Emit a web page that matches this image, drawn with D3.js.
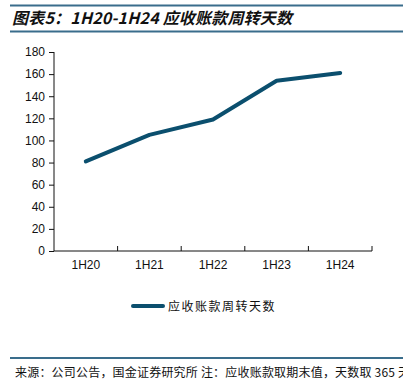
<!DOCTYPE html>
<html>
<head>
<meta charset="utf-8">
<script src="https://cdn.jsdelivr.net/npm/d3@7"></script>
<style>
  body { margin: 0; background: #fff; overflow: hidden; }
  svg { display: block; }
</style>
</head>
<body>
<div id="chart"></div>
<script>
// data
var categories = ["1H20", "1H21", "1H22", "1H23", "1H24"];
var turnoverDays = [81, 105, 119, 154, 161];
var yTicks = [0, 20, 40, 60, 80, 100, 120, 140, 160, 180];
var seriesName = "应收账款周转天数";
var titleText = "图表5：1H20-1H24 应收账款周转天数";
var sourceText = "来源：公司公告，国金证券研究所 注：应收账款取期末值，天数取 365 天";

function init() {
    var w = 403, h = 380;
    var left = 54, right = 372, top = 52, bottom = 251;
    var lineColor = "#0b4f6e";
    var ruleColor = "#3a6d8c";
    var cjk = "'Noto Sans CJK SC', sans-serif";

    var svg = d3.select("#chart").append("svg")
        .attr("width", w)
        .attr("height", h);

    // title with rules
    svg.append("line").attr("x1", 10).attr("x2", w).attr("y1", 5.5).attr("y2", 5.5)
        .attr("stroke", ruleColor).attr("stroke-width", 2);
    svg.append("line").attr("x1", 10).attr("x2", w).attr("y1", 31.5).attr("y2", 31.5)
        .attr("stroke", ruleColor).attr("stroke-width", 2);
    svg.append("text")
        .attr("x", 12).attr("y", 24)
        .attr("font-family", cjk)
        .attr("font-size", 16)
        .attr("letter-spacing", 0.2)
        .attr("font-weight", "bold")
        .attr("font-style", "italic")
        .attr("fill", "#111")
        .text(titleText);

    var xScale = d3.scaleBand()
        .domain(categories)
        .range([left, right]);

    var yScale = d3.scaleLinear()
        .domain([0, 180])
        .range([bottom, top]);

    // y axis
    var yAxis = svg.append("g")
        .attr("transform", "translate(" + left + ",0)")
        .call(d3.axisLeft(yScale).tickValues(yTicks).tickSize(5).tickPadding(4));
    yAxis.selectAll("text")
        .attr("font-family", "'Liberation Sans', Arial, sans-serif")
        .attr("font-size", 12)
        .attr("fill", "#111");
    yAxis.selectAll("line, path").attr("stroke", "#111");
    yAxis.select(".domain").attr("d", "M0," + bottom + "V" + top);

    // x axis: ticks point up at band boundaries
    var xAxis = svg.append("g")
        .attr("transform", "translate(0," + bottom + ")");
    xAxis.append("line")
        .attr("x1", left).attr("x2", right)
        .attr("stroke", "#111");
    xAxis.selectAll(".bt")
        .data(categories)
        .enter()
        .append("line")
        .attr("class", "bt")
        .attr("x1", function(d) { return xScale(d) + xScale.bandwidth(); })
        .attr("x2", function(d) { return xScale(d) + xScale.bandwidth(); })
        .attr("y1", 0).attr("y2", -5)
        .attr("stroke", "#111");
    xAxis.selectAll(".lbl")
        .data(categories)
        .enter()
        .append("text")
        .attr("class", "lbl")
        .attr("x", function(d) { return xScale(d) + xScale.bandwidth() / 2; })
        .attr("y", 18)
        .attr("text-anchor", "middle")
        .attr("font-family", "'Liberation Sans', Arial, sans-serif")
        .attr("font-size", 12)
        .attr("fill", "#111")
        .text(function(d) { return d; });

    // line
    var line = d3.line()
        .x(function(d, i) { return xScale(categories[i]) + xScale.bandwidth() / 2; })
        .y(function(d) { return yScale(d); });
    svg.append("path")
        .datum(turnoverDays)
        .attr("d", line)
        .attr("fill", "none")
        .attr("stroke", lineColor)
        .attr("stroke-width", 4)
        .attr("stroke-linecap", "round")
        .attr("stroke-linejoin", "round");

    // legend
    svg.append("line")
        .attr("x1", 133).attr("x2", 163)
        .attr("y1", 306).attr("y2", 306)
        .attr("stroke", lineColor)
        .attr("stroke-width", 4)
        .attr("stroke-linecap", "round");
    svg.append("text")
        .attr("x", 168).attr("y", 311)
        .attr("font-family", cjk)
        .attr("font-size", 12)
        .attr("letter-spacing", 1.5)
        .attr("fill", "#111")
        .text(seriesName);

    // source footer
    svg.append("line").attr("x1", 10).attr("x2", w).attr("y1", 358).attr("y2", 358)
        .attr("stroke", ruleColor).attr("stroke-width", 2);
    svg.append("text")
        .attr("x", 15).attr("y", 377)
        .attr("font-family", cjk)
        .attr("font-size", 12)
        .attr("letter-spacing", 0.2)
        .attr("fill", "#111")
        .text(sourceText);
}

window.onload = init;
</script>
</body>
</html>
